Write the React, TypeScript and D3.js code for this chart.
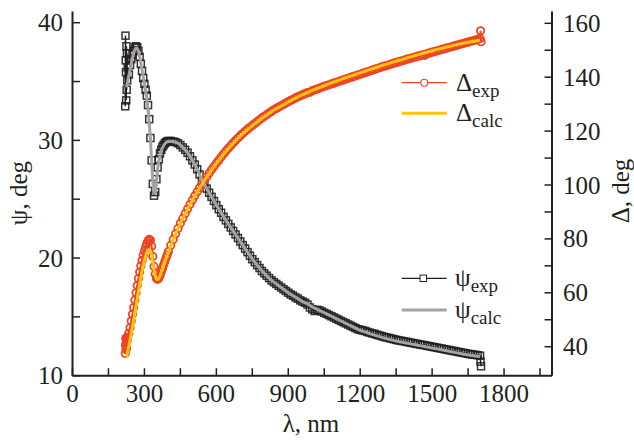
import React from "react";
import * as d3 from "d3";

// ---------- data ----------
// experimental wavelength grid, nm
const lambdaExp = [
  220, 221, 222, 223, 224, 225, 226, 227, 228,
  230, 235, 240, 245, 250, 255, 260, 265, 270, 275, 280, 285, 290, 295, 300,
  305, 310, 315, 320, 325, 330, 335, 340, 345, 350, 355, 360, 365, 370, 375,
  380, 385, 390, 395, 400,
  410, 420, 430, 440, 450, 460, 470, 480, 490, 500,
  510, 520, 530, 540, 550, 560, 570, 580, 590, 600,
  610, 620, 630, 640, 650, 660, 670, 680, 690, 700,
  710, 720, 730, 740, 750, 760, 770, 780, 790, 800,
  810, 820, 830, 840, 850, 860, 870, 880, 890, 900,
  910, 920, 930, 940, 950, 960, 970, 980, 990, 1000,
  1010, 1020, 1030, 1040, 1050, 1060, 1070, 1080, 1090, 1100,
  1110, 1120, 1130, 1140, 1150, 1160, 1170, 1180, 1190, 1200,
  1210, 1220, 1230, 1240, 1250, 1260, 1270, 1280, 1290, 1300,
  1310, 1320, 1330, 1340, 1350, 1360, 1370, 1380, 1390, 1400,
  1410, 1420, 1430, 1440, 1450, 1460, 1470, 1480, 1490, 1500,
  1510, 1520, 1530, 1540, 1550, 1560, 1570, 1580, 1590, 1600,
  1610, 1620, 1630, 1640, 1650, 1660, 1670, 1680, 1690, 1700,
  1702, 1704,
];

// psi_exp, deg
const psiExp = [
  32.9, 38.9, 36.8, 35.8, 33.4, 38.0, 34.3, 37.4, 35.1,
  36.2, 35.6, 36.4, 36.9, 37.3, 37.6, 37.9, 38.0, 37.9, 37.6, 37.1, 36.5, 35.9, 35.3, 34.8,
  34.3, 33.8, 33.0, 31.8, 30.2, 28.3, 26.3, 25.3, 25.6, 26.7, 27.7, 28.4, 28.9, 29.2, 29.45,
  29.6, 29.75, 29.85, 29.9, 29.95,
  29.95, 29.9, 29.85, 29.75, 29.6, 29.4, 29.2, 28.95, 28.65, 28.3,
  27.95, 27.55, 27.1, 26.6, 26.25, 25.9, 25.55, 25.2, 24.85, 24.5,
  24.15, 23.85, 23.5, 23.2, 22.9, 22.6, 22.3, 22.0, 21.7, 21.4,
  21.1, 20.8, 20.5, 20.2, 19.9, 19.65, 19.4, 19.15, 18.9, 18.7,
  18.5, 18.3, 18.1, 17.95, 17.8, 17.65, 17.5, 17.35, 17.2, 17.05,
  16.9, 16.8, 16.65, 16.55, 16.4, 16.3, 16.2, 16.05, 15.8, 15.65,
  15.5, 15.6, 15.55, 15.45, 15.35, 15.25, 15.15, 15.05, 14.95, 14.85,
  14.75, 14.65, 14.55, 14.45, 14.35, 14.25, 14.15, 14.05, 13.95, 13.9,
  13.85, 13.8, 13.72, 13.66, 13.6, 13.55, 13.48, 13.42, 13.36, 13.3,
  13.25, 13.2, 13.15, 13.1, 13.05, 13.0, 12.97, 12.93, 12.89, 12.85,
  12.81, 12.77, 12.73, 12.69, 12.65, 12.62, 12.58, 12.54, 12.5, 12.46,
  12.42, 12.38, 12.34, 12.3, 12.26, 12.22, 12.18, 12.14, 12.1, 12.06,
  12.02, 11.98, 11.94, 11.9, 11.86, 11.83, 11.8, 11.77, 11.74, 11.7,
  11.2, 10.8,
];

// Delta_exp, deg
const deltaExp = [
  37.5, 40.5, 43.0, 39.0, 41.5, 39.5, 43.5, 42.0, 42.5,
  43.5, 45.0, 47.0, 49.5, 52.0, 54.5, 57.3, 60.0, 62.7, 65.3, 67.7, 70.0, 72.0, 73.9, 75.5,
  77.0, 78.3, 79.3, 79.8, 79.5, 77.3, 73.5, 69.8, 67.0, 65.4, 65.0, 65.4, 66.4, 67.7, 69.0,
  70.3, 71.6, 72.9, 74.1, 75.3,
  77.6, 79.8, 81.9, 83.9, 85.8, 87.6, 89.4, 91.1, 92.8, 94.4,
  96.0, 97.5, 99.0, 100.4, 101.8, 103.1, 104.4, 105.7, 106.9, 108.1,
  109.2, 110.4, 111.5, 112.6, 113.6, 114.6, 115.6, 116.5, 117.4, 118.3,
  119.1, 119.9, 120.7, 121.4, 122.1, 122.8, 123.5, 124.2, 124.9, 125.5,
  126.1, 126.7, 127.3, 127.9, 128.4, 128.9, 129.4, 129.9, 130.4, 130.9,
  131.4, 131.8, 132.3, 132.7, 133.1, 133.5, 133.9, 134.3, 134.4, 135.0,
  135.3, 135.6, 135.9, 136.3, 136.6, 136.9, 137.2, 137.5, 137.8, 138.1,
  138.4, 138.7, 139.0, 139.3, 139.6, 139.9, 140.2, 140.5, 140.8, 141.1,
  141.4, 141.7, 142.0, 142.3, 142.6, 142.9, 143.2, 143.5, 143.8, 144.1,
  144.3, 144.6, 144.9, 145.2, 145.4, 145.7, 146.0, 146.2, 146.5, 146.8,
  147.0, 147.3, 147.5, 147.8, 148.0, 148.3, 148.1, 148.8, 149.0, 149.3,
  149.5, 149.8, 150.0, 150.3, 150.5, 150.8, 151.0, 151.3, 151.5, 151.8,
  152.0, 152.3, 152.5, 152.8, 153.0, 153.3, 153.5, 153.8, 154.0, 154.4,
  157.2, 153.2,
];

// calculated-model wavelength grid, nm
const lambdaCalc = [
  225, 230, 235, 240, 245, 250, 255, 260, 265, 270,
  275, 280, 285, 290, 295, 300, 305, 310, 315, 320,
  325, 330, 335, 340, 345, 350, 355, 360, 365, 370,
  375, 380, 385, 390, 395, 400,
  420, 440, 460, 480, 500, 520, 540, 560, 580, 600, 620, 640, 660, 680,
  700, 720, 740, 760, 780, 800, 820, 840, 860, 880,
  900, 920, 940, 960, 980, 1000, 1020, 1040, 1060, 1080,
  1100, 1120, 1140, 1160, 1180, 1200, 1220, 1240, 1260, 1280,
  1300, 1320, 1340, 1360, 1380, 1400, 1420, 1440, 1460, 1480,
  1500, 1520, 1540, 1560, 1580, 1600, 1620, 1640, 1660, 1680,
  1700,
];

const psiCalc = [
  34.5, 35.0, 35.5, 36.0, 36.5, 37.0, 37.4, 37.7, 37.85, 37.8,
  37.55, 37.15, 36.6, 36.0, 35.4, 34.8, 34.2, 33.5, 32.6, 31.5,
  30.1, 28.3, 26.5, 25.5, 25.6, 26.5, 27.5, 28.2, 28.7, 29.1,
  29.35, 29.55, 29.7, 29.8, 29.87, 29.92,
  29.9, 29.75, 29.4, 28.95, 28.3, 27.55, 26.6, 25.9, 25.2, 24.5, 23.85, 23.2, 22.6, 22.0,
  21.4, 20.8, 20.2, 19.65, 19.15, 18.7, 18.3, 17.95, 17.65, 17.35,
  17.05, 16.8, 16.55, 16.3, 16.1, 15.85, 15.65, 15.45, 15.25, 15.05,
  14.85, 14.65, 14.45, 14.25, 14.05, 13.85, 13.72, 13.58, 13.45, 13.32,
  13.2, 13.1, 13.0, 12.9, 12.83, 12.75, 12.67, 12.59, 12.52, 12.44,
  12.36, 12.28, 12.2, 12.12, 12.04, 11.96, 11.88, 11.8, 11.74, 11.68,
  11.62,
];

const deltaCalc = [
  36.0, 38.0, 40.2, 42.5, 44.8, 47.2, 49.7, 52.3, 55.0, 57.7,
  60.4, 63.0, 65.5, 67.9, 70.1, 72.0, 73.7, 75.0, 75.8, 76.1,
  75.7, 74.1, 71.5, 68.7, 66.5, 65.2, 64.9, 65.3, 66.3, 67.6,
  68.9, 70.2, 71.5, 72.8, 74.0, 75.2,
  79.7, 83.8, 87.5, 91.0, 94.3, 97.4, 100.3, 103.0, 105.6, 108.0, 110.3, 112.5, 114.5, 116.4,
  118.2, 119.8, 121.3, 122.7, 124.1, 125.4, 126.6, 127.8, 128.8, 129.8,
  130.8, 131.8, 132.7, 133.5, 134.3, 135.1, 135.8, 136.5, 137.2, 137.9,
  138.5, 139.2, 139.8, 140.4, 141.0, 141.6, 142.2, 142.8, 143.4, 144.0,
  144.6, 145.1, 145.7, 146.2, 146.7, 147.3, 147.8, 148.3, 148.8, 149.3,
  149.8, 150.3, 150.7, 151.2, 151.6, 152.0, 152.4, 152.8, 153.1, 153.4,
  153.7,
];

const xTicks = [0, 150, 300, 450, 600, 750, 900, 1050, 1200, 1350, 1500, 1650, 1800, 1950];
const xTickLabels = [0, 300, 600, 900, 1200, 1500, 1800];
const psiTicks = [10, 15, 20, 25, 30, 35, 40];
const psiTickLabels = [10, 20, 30, 40];
const deltaTicks = [40, 50, 60, 70, 80, 90, 100, 110, 120, 130, 140, 150, 160];
const deltaTickLabels = [40, 60, 80, 100, 120, 140, 160];

// ---------- styling ----------
const FONT = "'Liberation Serif', 'Times New Roman', serif";
const INK = "#231f20";
const RED = "#ec4524";
const YELLOW = "#ffc20e";
const GRAY = "#a3a3a3";

const W = 634;
const H = 441;
const left = 72.5;
const right = 552;
const top = 11.5;
const bottom = 375.7;

export default function App() {
  const x = d3.scaleLinear().domain([0, 2000]).range([left, right]);
  const yPsi = d3.scaleLinear().domain([10, 40]).range([bottom, 22.7]);
  const yDel = d3.scaleLinear().domain([40, 160]).range([346.7, 23.3]);

  const n1 = Math.min(lambdaExp.length, psiExp.length, deltaExp.length);
  const exp = d3.range(n1).map((i) => ({ l: lambdaExp[i], p: psiExp[i], d: deltaExp[i] }));
  const n2 = Math.min(lambdaCalc.length, psiCalc.length, deltaCalc.length);
  const calc = d3.range(n2).map((i) => ({ l: lambdaCalc[i], p: psiCalc[i], d: deltaCalc[i] }));

  const psiExpLine = d3.line<any>().x((d) => x(d.l)).y((d) => yPsi(d.p));
  const delExpLine = d3.line<any>().x((d) => x(d.l)).y((d) => yDel(d.d));
  const psiCalcLine = d3.line<any>().x((d) => x(d.l)).y((d) => yPsi(d.p)).curve(d3.curveMonotoneX);
  const delCalcLine = d3.line<any>().x((d) => x(d.l)).y((d) => yDel(d.d)).curve(d3.curveMonotoneX);

  const sq = 7;
  const r = 3.7;
  const tick = 7.5;

  return (
    <svg
      width={W}
      height={H}
      style={{ position: "absolute", left: 0, top: 0, background: "#fff" }}
      fontFamily={FONT}
    >
      <rect x={0} y={0} width={W} height={H} fill="#fff" />

      {/* psi experimental */}
      <path d={psiExpLine(exp) || ""} fill="none" stroke={INK} strokeWidth={1.5} />
      {exp.map((d, i) => (
        <rect
          key={"s" + i}
          x={x(d.l) - sq / 2}
          y={yPsi(d.p) - sq / 2}
          width={sq}
          height={sq}
          fill="none"
          stroke={INK}
          strokeWidth={1.5}
          strokeOpacity={0.9}
        />
      ))}

      {/* delta experimental */}
      <path d={delExpLine(exp) || ""} fill="none" stroke={RED} strokeWidth={2} />
      {exp.map((d, i) => (
        <circle
          key={"c" + i}
          cx={x(d.l)}
          cy={yDel(d.d)}
          r={r}
          fill="none"
          stroke={RED}
          strokeWidth={1.8}
        />
      ))}

      {/* calculated */}
      <path d={psiCalcLine(calc) || ""} fill="none" stroke={GRAY} strokeWidth={3} />
      <path d={delCalcLine(calc) || ""} fill="none" stroke={YELLOW} strokeWidth={3} />

      {/* axes */}
      <g stroke={INK} fill="none">
        <line x1={left} x2={right} y1={bottom} y2={bottom} strokeWidth={2} />
        <line x1={left} x2={left} y1={top} y2={bottom} strokeWidth={2} />
        <line x1={right} x2={right} y1={top} y2={bottom} strokeWidth={2} />
        {xTicks.map((t) => (
          <line key={"xt" + t} x1={x(t)} x2={x(t)} y1={bottom} y2={bottom - tick} strokeWidth={1.5} />
        ))}
        {psiTicks.map((t) => (
          <line key={"pt" + t} x1={left} x2={left + tick} y1={yPsi(t)} y2={yPsi(t)} strokeWidth={1.5} />
        ))}
        {deltaTicks.map((t) => (
          <line key={"dt" + t} x1={right} x2={right - tick} y1={yDel(t)} y2={yDel(t)} strokeWidth={1.5} />
        ))}
      </g>

      <g fill={INK} fontSize={25}>
        {xTickLabels.map((t) => (
          <text key={"xl" + t} x={x(t)} y={402} textAnchor="middle">
            {t}
          </text>
        ))}
        {psiTickLabels.map((t) => (
          <text key={"pl" + t} x={63} y={yPsi(t) + 8.5} textAnchor="end">
            {t}
          </text>
        ))}
        {deltaTickLabels.map((t) => (
          <text key={"dl" + t} x={563} y={yDel(t) + 8.5} textAnchor="start">
            {t}
          </text>
        ))}
        <text x={311} y={432} textAnchor="middle">
          λ, nm
        </text>
        <text transform="translate(27,193) rotate(-90)" textAnchor="middle">
          ψ, deg
        </text>
        <text transform="translate(629,191) rotate(-90)" textAnchor="middle">
          Δ, deg
        </text>
      </g>

      {/* legend: Delta */}
      <g>
        <line x1={401.7} x2={446.7} y1={82.7} y2={82.7} stroke={RED} strokeWidth={1.2} />
        <circle cx={424.3} cy={82.7} r={3.5} fill="#fff" stroke={RED} strokeWidth={1.1} />
        <text x={456} y={90.5} fill={INK} fontSize={25}>
          Δ<tspan fontSize={19} dy={6}>exp</tspan>
        </text>
        <line x1={401.7} x2={446.7} y1={113.3} y2={113.3} stroke={YELLOW} strokeWidth={3} />
        <text x={456} y={121} fill={INK} fontSize={25}>
          Δ<tspan fontSize={19} dy={6}>calc</tspan>
        </text>
      </g>

      {/* legend: psi */}
      <g>
        <line x1={401.7} x2={446.7} y1={278.3} y2={278.3} stroke={INK} strokeWidth={1.2} />
        <rect x={423.3 - 3.25} y={278.3 - 3.25} width={6.5} height={6.5} fill="#fff" stroke={INK} strokeWidth={1} />
        <text x={455} y={286} fill={INK} fontSize={25}>
          ψ<tspan fontSize={19} dy={6}>exp</tspan>
        </text>
        <line x1={401.7} x2={446.7} y1={310} y2={310} stroke={GRAY} strokeWidth={3} />
        <text x={455} y={317.5} fill={INK} fontSize={25}>
          ψ<tspan fontSize={19} dy={6}>calc</tspan>
        </text>
      </g>
    </svg>
  );
}
